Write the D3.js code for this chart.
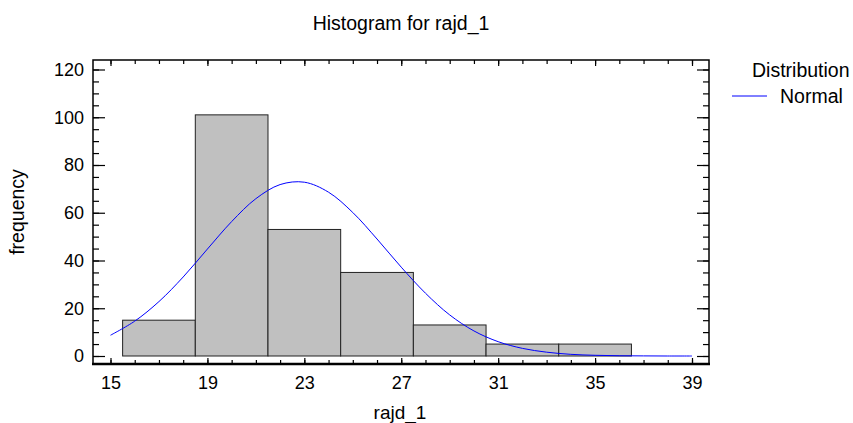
<!DOCTYPE html>
<html>
<head>
<meta charset="utf-8">
<script src="https://cdn.jsdelivr.net/npm/d3@7"></script>
<style>
  html, body { margin: 0; padding: 0; background: #fff; }
  svg { display: block; font-family: "Liberation Sans", Arial, sans-serif; }
</style>
</head>
<body>
<svg id="chart" width="853" height="423"></svg>
<script>
// ---- data ----
const binEdges = [15.5, 18.5, 21.5, 24.5, 27.5, 30.5, 33.5, 36.5];
const frequencies = [15, 101, 53, 35, 13, 5, 5];
// fitted normal curve, frequency scale, read at integer x
const curveX = [15, 16, 17, 18, 19, 20, 21, 22, 23, 24, 25, 26, 27, 28, 29, 30, 31, 32, 33, 34, 35, 36, 37, 38, 39];
const curveY = [8.7, 14.6, 22.8, 33.1, 44.8, 56.3, 65.9, 71.8, 72.8, 68.6, 60.1, 49.0, 37.2, 26.3, 17.2, 10.5, 6.0, 3.2, 1.6, 0.7, 0.3, 0.1, 0.04, 0, 0];
const xTickValues = [15, 19, 23, 27, 31, 35, 39];
const xMinorTickValues = [15,16,17,18,19,20,21,22,23,24,25,26,27,28,29,30,31,32,33,34,35,36,37,38,39];
const yTickValues = [0, 20, 40, 60, 80, 100, 120];
const yMinorTickValues = [0,5,10,15,20,25,30,35,40,45,50,55,60,65,70,75,80,85,90,95,100,105,110,115,120];
const titleText = "Histogram for rajd_1";
const xLabel = "rajd_1";
const yLabel = "frequency";
const legendTitle = "Distribution";
const legendItems = ["Normal"];

// ---- layout ----
const frame = { left: 93, right: 709, top: 60, bottom: 364 };
const svg = d3.select("#chart");

const x = d3.scaleLinear().domain([15, 39]).range([110.5, 692]);
const y = d3.scaleLinear().domain([0, 120]).range([356, 69.5]);

// bars
const bars = frequencies.map((f, i) => ({ x0: binEdges[i], x1: binEdges[i + 1], f }));
svg.append("g").selectAll("rect").data(bars).join("rect")
  .attr("x", d => x(d.x0))
  .attr("y", d => y(d.f))
  .attr("width", d => x(d.x1) - x(d.x0))
  .attr("height", d => y(0) - y(d.f))
  .attr("fill", "#c0c0c0")
  .attr("stroke", "#222")
  .attr("stroke-width", 1);

// normal curve
const line = d3.line().x(d => x(d[0])).y(d => y(d[1])).curve(d3.curveCatmullRom);
svg.append("path")
  .datum(curveX.map((v, i) => [v, curveY[i]]))
  .attr("d", line)
  .attr("fill", "none")
  .attr("stroke", "#0000ff")
  .attr("stroke-width", 1);

// frame
svg.append("rect")
  .attr("x", frame.left).attr("y", frame.top)
  .attr("width", frame.right - frame.left).attr("height", frame.bottom - frame.top)
  .attr("fill", "none").attr("stroke", "#000").attr("stroke-width", 1.5);
svg.append("line").attr("x1", frame.left - 1).attr("x2", frame.right + 1)
  .attr("y1", frame.bottom).attr("y2", frame.bottom)
  .attr("stroke", "#000").attr("stroke-width", 2.5);

function styleAxis(g) {
  g.select(".domain").remove();
  g.selectAll(".tick line").attr("stroke", "#000").attr("stroke-width", 1.2);
  g.selectAll("text").attr("fill", "#000").attr("font-size", "18px")
    .attr("font-family", '"Liberation Sans", Arial, sans-serif');
}

// bottom axis
svg.append("g").attr("transform", `translate(0,${frame.bottom})`)
  .call(d3.axisBottom(x).tickValues(xMinorTickValues).tickSize(-4).tickFormat(""))
  .call(styleAxis);
svg.append("g").attr("transform", `translate(0,${frame.bottom})`)
  .call(d3.axisBottom(x).tickValues(xTickValues).tickSize(-6).tickPadding(12).tickFormat(d3.format("d")))
  .call(styleAxis);
// top axis
svg.append("g").attr("transform", `translate(0,${frame.top})`)
  .call(d3.axisTop(x).tickValues(xMinorTickValues).tickSize(-4).tickFormat(""))
  .call(styleAxis);
svg.append("g").attr("transform", `translate(0,${frame.top})`)
  .call(d3.axisTop(x).tickValues(xTickValues).tickSize(-6).tickFormat(""))
  .call(styleAxis);
// left axis
svg.append("g").attr("transform", `translate(${frame.left},0)`)
  .call(d3.axisLeft(y).tickValues(yMinorTickValues).tickSize(-6).tickFormat(""))
  .call(styleAxis);
svg.append("g").attr("transform", `translate(${frame.left},0)`)
  .call(d3.axisLeft(y).tickValues(yTickValues).tickSize(-12).tickPadding(9).tickFormat(d3.format("d")))
  .call(styleAxis);
// right axis
svg.append("g").attr("transform", `translate(${frame.right},0)`)
  .call(d3.axisRight(y).tickValues(yMinorTickValues).tickSize(-6).tickFormat(""))
  .call(styleAxis);
svg.append("g").attr("transform", `translate(${frame.right},0)`)
  .call(d3.axisRight(y).tickValues(yTickValues).tickSize(-12).tickFormat(""))
  .call(styleAxis);

// title & labels
svg.append("text").attr("x", 401).attr("y", 30).attr("text-anchor", "middle")
  .attr("font-size", "19.5px").attr("fill", "#000").text(titleText);
svg.append("text").attr("x", 400).attr("y", 419).attr("text-anchor", "middle")
  .attr("font-size", "19px").attr("fill", "#000").text(xLabel);
svg.append("text").attr("transform", "translate(24,212) rotate(-90)").attr("text-anchor", "middle")
  .attr("font-size", "19.5px").attr("fill", "#000").text(yLabel);

// legend
svg.append("text").attr("x", 752).attr("y", 76.5)
  .attr("font-size", "19.5px").attr("fill", "#000").text(legendTitle);
legendItems.forEach((name, i) => {
  svg.append("line").attr("x1", 732).attr("x2", 767)
    .attr("y1", 96 + i * 25).attr("y2", 96 + i * 25)
    .attr("stroke", "#0000ff").attr("stroke-width", 1);
  svg.append("text").attr("x", 780).attr("y", 102.5 + i * 25)
    .attr("font-size", "19.5px").attr("fill", "#000").text(name);
});
</script>
</body>
</html>
